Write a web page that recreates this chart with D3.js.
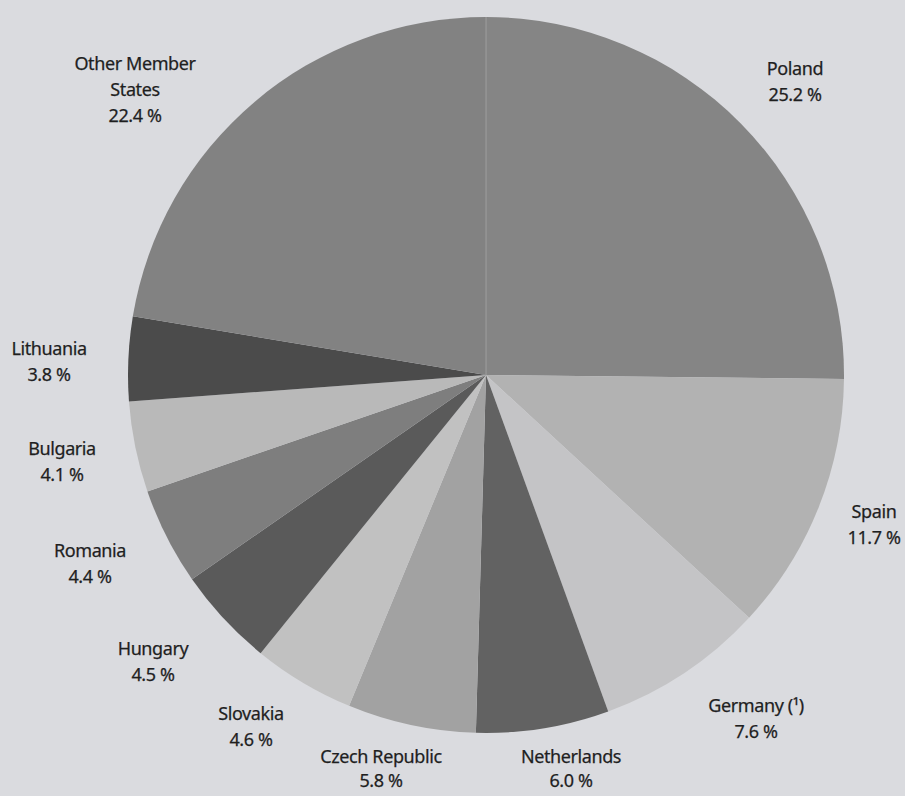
<!DOCTYPE html>
<html lang="en">
<head>
<meta charset="utf-8">
<title>Pie chart</title>
<script src="https://d3js.org/d3.v7.min.js"></script>
<style>
  body { margin: 0; background: #dadbdf; }
  svg { display: block; }
  .lbl { font-family: "Noto Sans", sans-serif; font-size: 18px; fill: #1f1f1f; letter-spacing: -0.4px; stroke: #1f1f1f; stroke-width: 0.25px; }
</style>
</head>
<body>
<div id="chart"></div>
<script>
// data, clockwise from 12 o'clock
var countries = ["Poland", "Spain", "Germany (\u00b9)", "Netherlands", "Czech Republic",
                 "Slovakia", "Hungary", "Romania", "Bulgaria", "Lithuania", "Other Member States"];
var shares = [25.2, 11.7, 7.6, 6.0, 5.8, 4.6, 4.5, 4.4, 4.1, 3.8, 22.4];
var greys = ["#858585", "#b2b2b2", "#c4c4c6", "#626262", "#a2a2a2",
             "#c1c1c1", "#5a5a5a", "#7e7e7e", "#b9b9b9", "#4b4b4b", "#828282"];
// label lines (name split where the original wraps it)
var labelLines = [["Poland"], ["Spain"], ["Germany (\u00b9)"], ["Netherlands"], ["Czech Republic"],
                  ["Slovakia"], ["Hungary"], ["Romania"], ["Bulgaria"], ["Lithuania"], ["Other Member", "States"]];

var w = 905, h = 796;
var cx = 486, cy = 375, r = 358;

// label anchor = baseline of first line, centred
var labelPos = [[795, 75], [874, 518], [756, 712], [571, 763], [381, 763],
                [251, 720], [153, 655], [90, 557], [62, 455], [49, 355], [135, 70]];
var lineGap = 26;
var bottomGap = 24; // the two labels under the pie sit closer to the edge

var svg = d3.select("#chart").append("svg")
  .attr("width", w)
  .attr("height", h);

var pie = d3.pie().sort(null).value(d => d);
var arc = d3.arc().innerRadius(0).outerRadius(r);

var g = svg.append("g").attr("transform", "translate(" + cx + "," + cy + ")");

g.selectAll("path")
  .data(pie(shares))
  .enter()
  .append("path")
  .attr("d", arc)
  .attr("fill", (d, i) => greys[i]);

// faint light seam at the top where the scan shows one
g.append("line")
  .attr("x1", 0).attr("y1", 0)
  .attr("x2", 0).attr("y2", -r)
  .attr("stroke", "#a4a4a4")
  .attr("stroke-width", 0.8);

var fmt = d3.format(".1f");

var labels = svg.selectAll("text.lbl")
  .data(countries)
  .enter()
  .append("text")
  .attr("class", "lbl")
  .attr("text-anchor", "middle")
  .attr("x", (d, i) => labelPos[i][0])
  .attr("y", (d, i) => labelPos[i][1]);

labels.each(function(d, i) {
  var t = d3.select(this);
  var lines = labelLines[i].concat([fmt(shares[i]) + " %"]);
  var gap = (i == 3 || i == 4) ? bottomGap : lineGap;
  lines.forEach(function(s, k) {
    t.append("tspan")
      .attr("x", labelPos[i][0])
      .attr("dy", k == 0 ? 0 : gap)
      .text(s);
  });
});
</script>
</body>
</html>
